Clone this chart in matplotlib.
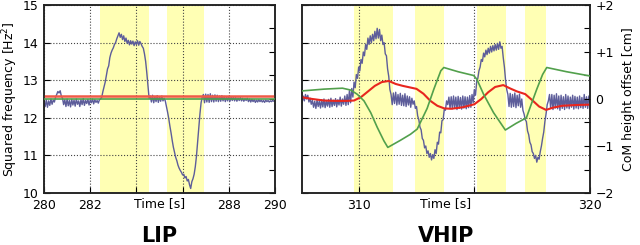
import numpy as np
import matplotlib
matplotlib.use("Agg")
import matplotlib.pyplot as plt
from matplotlib.ticker import MultipleLocator, FixedLocator

# ---------------- data ----------------
# LIP: measured squared frequency, sampled every 0.05 s from 280 s to 290 s
lip_t0, lip_t1 = 280.0, 290.0
lip_freq = [
    12.38, 12.30, 12.48, 12.28, 12.45, 12.33, 12.50, 12.36, 12.47, 12.42,
    12.55, 12.62, 12.70, 12.66, 12.72, 12.58,
    12.52, 12.35, 12.48, 12.30, 12.50, 12.32, 12.46, 12.29, 12.49, 12.34,
    12.47, 12.31, 12.50, 12.36, 12.45, 12.30, 12.48, 12.35, 12.51, 12.33,
    12.46, 12.38, 12.49, 12.34, 12.47, 12.40, 12.50, 12.37, 12.48, 12.41,
    12.46, 12.39, 12.48,
    12.50, 12.55, 12.70, 12.82, 12.95, 13.12, 13.30, 13.38, 13.60, 13.72, 13.80,
    13.86, 13.95, 14.00, 14.10, 14.18, 14.26, 14.14, 14.22, 14.08, 14.18,
    14.03, 14.12, 13.98, 14.06, 13.94, 14.05, 13.96, 14.04, 13.92, 14.02,
    13.95, 14.05, 13.93, 14.03, 13.97, 13.90, 13.85, 13.70, 13.50, 13.20,
    12.85, 12.52,
    12.58, 12.42, 12.60, 12.40, 12.57, 12.43, 12.59, 12.41, 12.56, 12.44,
    12.58, 12.45, 12.52,
    12.45, 12.30, 12.15, 11.98, 11.78, 11.60, 11.40, 11.22, 11.08, 10.95,
    10.86, 10.74, 10.66, 10.60, 10.55, 10.48, 10.50, 10.40, 10.44, 10.32,
    10.36, 10.22, 10.12, 10.30, 10.38, 10.50, 10.70, 10.98, 11.35, 11.75,
    12.10, 12.40, 12.55,
    12.62, 12.40, 12.63, 12.42, 12.62, 12.41, 12.64, 12.43, 12.60, 12.42,
    12.61, 12.44, 12.60, 12.43, 12.58, 12.44, 12.59, 12.45, 12.57, 12.43,
    12.56, 12.45, 12.57, 12.44, 12.55, 12.46, 12.56, 12.45, 12.54, 12.44,
    12.53, 12.46, 12.54, 12.45, 12.52, 12.44, 12.51, 12.46, 12.52, 12.43,
    12.50, 12.42, 12.49, 12.43, 12.48, 12.41, 12.47, 12.42, 12.48, 12.43,
    12.47, 12.42, 12.46, 12.41, 12.47, 12.43, 12.46, 12.42, 12.45, 12.43,
    12.46, 12.44, 12.45,
]
lip_ref_t = [280.0, 290.0]
lip_ref_freq = [12.57, 12.57]      # red (Hz^2)
lip_com = [0.0, 0.0]               # green (cm)
lip_spans = [(282.42, 284.56), (285.31, 286.91)]

# VHIP: measured squared frequency, sampled every 0.05 s from 307.5 s to 320 s
vhip_t0, vhip_t1 = 307.5, 320.0
vhip_freq = [
    12.48, 12.40, 12.58, 12.45, 12.62, 12.50, 12.60, 12.42, 12.52, 12.36,
    12.46, 12.28, 12.44, 12.25, 12.47, 12.30, 12.45, 12.26, 12.48, 12.29,
    12.50, 12.27, 12.46, 12.31, 12.49, 12.28, 12.52, 12.30, 12.47, 12.33,
    12.51, 12.29, 12.48, 12.34, 12.55, 12.31, 12.50, 12.36, 12.58, 12.33,
    12.62, 12.35, 12.72,
    12.40, 12.78, 12.55,
    12.95, 12.80, 13.15, 13.05,
    13.35, 13.25, 13.55, 13.45, 13.75, 13.65, 13.95, 13.82, 14.12, 13.95,
    14.18, 14.00, 14.22, 14.05, 14.30, 14.10, 14.38, 14.12, 14.35, 14.05,
    14.20, 13.95, 14.00, 13.70, 13.65, 13.30, 13.10, 12.75, 12.62,
    12.35, 12.66, 12.38, 12.68, 12.34, 12.62, 12.36, 12.65, 12.33, 12.60,
    12.32, 12.64, 12.30, 12.58, 12.34, 12.56, 12.28, 12.52, 12.36,
    12.45, 12.25, 12.30, 12.05, 11.95, 11.75, 11.68, 11.45, 11.40, 11.20,
    11.25, 11.05, 11.12, 10.95, 11.05, 10.88, 11.02, 10.92, 11.15, 11.05,
    11.35, 11.30, 11.62, 11.60, 11.92, 11.95, 12.22, 12.20, 12.45, 12.35,
    12.55,
    12.25, 12.56, 12.24, 12.58, 12.26, 12.55, 12.22, 12.57, 12.25, 12.54,
    12.23, 12.58, 12.26, 12.56, 12.24, 12.55, 12.27, 12.59, 12.28, 12.62,
    12.40,
    12.75, 12.60, 12.95, 13.05, 13.25, 13.35, 13.55, 13.50, 13.72, 13.62,
    13.80, 13.68, 13.85, 13.72, 13.90, 13.75, 13.92, 13.78, 13.95, 13.80,
    13.98, 13.82, 14.02, 13.85, 13.90, 13.60, 13.35, 13.00, 12.75, 12.62,
    12.30, 12.65, 12.28, 12.62, 12.30, 12.66, 12.27, 12.60, 12.32, 12.63,
    12.28, 12.50,
    12.20, 12.10, 11.95, 11.90, 11.65, 11.55, 11.35, 11.28, 11.10, 11.05,
    10.92, 11.00, 10.82, 10.95, 10.90, 11.10, 11.25, 11.45, 11.62, 11.90,
    12.10, 12.35, 12.45, 12.62,
    12.25, 12.62, 12.22, 12.60, 12.26, 12.64, 12.24, 12.58, 12.20, 12.60,
    12.25, 12.56, 12.22, 12.62, 12.26, 12.58, 12.24, 12.55, 12.28, 12.60,
    12.23, 12.57, 12.26, 12.55, 12.24, 12.58, 12.27, 12.54, 12.25, 12.62,
    12.28, 12.56, 12.25, 12.58, 12.40,
]
vhip_ref_t = [307.5, 308.0, 308.5, 309.0, 309.5, 309.8, 310.1, 310.4, 310.7,
              311.0, 311.3, 311.6, 311.9, 312.2, 312.5, 312.8, 313.1, 313.4,
              313.7, 314.0, 314.5, 315.0, 315.3, 315.6, 315.9, 316.25, 316.55,
              316.85, 317.2, 317.5, 317.8, 318.1, 318.4, 318.8, 319.4, 320.0]
vhip_ref_freq = [12.55, 12.50, 12.46, 12.45, 12.45, 12.46, 12.55, 12.70, 12.85,
                 12.95, 12.98, 12.90, 12.85, 12.81, 12.77, 12.64, 12.45, 12.32,
                 12.25, 12.24, 12.28, 12.36, 12.50, 12.68, 12.82, 12.87, 12.78,
                 12.70, 12.63, 12.47, 12.30, 12.21, 12.27, 12.32, 12.34, 12.35]
vhip_com_t = [307.5, 308.5, 309.3, 309.66, 309.94, 310.23, 310.52, 310.8, 311.09,
              311.26, 311.8, 312.24, 312.53, 312.96, 313.25, 313.55, 313.68,
              314.3, 314.97, 315.11, 315.4, 315.83, 316.34, 316.8, 317.25,
              317.41, 317.7, 317.95, 318.13, 318.99, 320.0]
vhip_com = [0.17, 0.21, 0.23, 0.19, 0.10, -0.04, -0.29, -0.60, -0.89,
            -1.03, -0.88, -0.75, -0.64, -0.20, 0.21, 0.60, 0.67,
            0.58, 0.50, 0.42, 0.10, -0.29, -0.66, -0.52, -0.40,
            -0.18, 0.21, 0.52, 0.67, 0.58, 0.49]
vhip_spans = [(309.78, 311.47), (312.42, 313.67), (315.11, 316.36), (317.18, 318.10)]

lip_xticks = [280, 282, 284, 286, 288, 290]
lip_xticklabels = ["280", "282", "", "", "288", "290"]
vhip_xticks = [310, 315, 320]
vhip_xticklabels = ["310", "", "320"]
freq_ticks = [10, 11, 12, 13, 14, 15]
com_ticks = [-2, -1, 0, 1, 2]
com_ticklabels = ["\u22122", "\u22121", "0", "+1", "+2"]

# ---------------- style ----------------
BLUE = "#5d5d9a"
RED = "#e8261e"
GREEN = "#52a04c"
YELLOW = "#ffffb4"
FS = 9

plt.rcParams["font.family"] = ["DejaVu Sans"]
fig = plt.figure(figsize=(6.4, 2.45), dpi=100)

axL = fig.add_axes([44 / 640, 52 / 245, 231 / 640, 188 / 245])
axR = fig.add_axes([302 / 640, 52 / 245, 288 / 640, 188 / 245])


def style_axes(ax, ax2, xlim, xticks, xlabels, show_left, show_right):
    ax.set_xlim(*xlim)
    ax.set_ylim(10, 15)
    ax2.set_ylim(-2, 2)
    ax.set_xticks(xticks)
    ax.set_xticklabels(xlabels, fontsize=FS)
    ax.yaxis.set_major_locator(FixedLocator(freq_ticks))
    if show_left:
        ax.set_yticklabels([str(v) for v in freq_ticks], fontsize=FS)
    else:
        ax.set_yticklabels([])
    ax.tick_params(axis="both", direction="in", length=4, width=0.8, pad=4,
                   top=False, right=False)
    ax.grid(True, linestyle=":", color="#444444", linewidth=0.8)
    ax2.yaxis.set_major_locator(FixedLocator(com_ticks))
    ax2.yaxis.set_minor_locator(MultipleLocator(0.5))
    if show_right:
        ax2.set_yticklabels(com_ticklabels, fontsize=FS)
    else:
        ax2.set_yticklabels([])
    ax2.tick_params(axis="y", which="both", direction="in", length=4, width=0.8, pad=4)
    for a in (ax, ax2):
        for s in a.spines.values():
            s.set_linewidth(1.1)
            s.set_color("#222222")


# ---- LIP ----
axL2 = axL.twinx()
for a, b in lip_spans:
    axL.axvspan(a, b, color=YELLOW, zorder=0, lw=0)
t = np.linspace(lip_t0, lip_t1, len(lip_freq))
axL.plot(t, lip_freq, color=BLUE, lw=1.0, zorder=2)
axL.plot(lip_ref_t, lip_ref_freq, color="#f05a48", lw=1.8, zorder=4)
axL2.plot(lip_ref_t, lip_com, color=GREEN, lw=1.2, zorder=3)
style_axes(axL, axL2, (280, 290), lip_xticks, lip_xticklabels, True, False)
axL.set_ylabel("Squared frequency [Hz$^2$]", fontsize=FS, labelpad=2)

# ---- VHIP ----
axR2 = axR.twinx()
for a, b in vhip_spans:
    axR.axvspan(a, b, color=YELLOW, zorder=0, lw=0)
t = np.linspace(vhip_t0, vhip_t1, len(vhip_freq))
axR.plot(t, vhip_freq, color=BLUE, lw=1.0, zorder=2)
axR.plot(vhip_ref_t, vhip_ref_freq, color=RED, lw=1.5, zorder=4)
axR2.plot(vhip_com_t, vhip_com, color=GREEN, lw=1.2, zorder=3)
style_axes(axR, axR2, (307.55, 320), vhip_xticks, vhip_xticklabels, False, True)
axR2.set_ylabel("CoM height offset [cm]", fontsize=FS, labelpad=6)

# x labels placed on the tick-label line
for ax in (axL, axR):
    ax.text(0.5, -0.075, "Time [s]", transform=ax.transAxes, ha="center",
            va="baseline", fontsize=FS)

fig.text(159.5 / 640, 0.014, "LIP", ha="center", va="baseline",
         fontsize=15, fontweight="bold")
fig.text(446 / 640, 0.014, "VHIP", ha="center", va="baseline",
         fontsize=15, fontweight="bold")

fig.savefig("out.png", dpi=100)
